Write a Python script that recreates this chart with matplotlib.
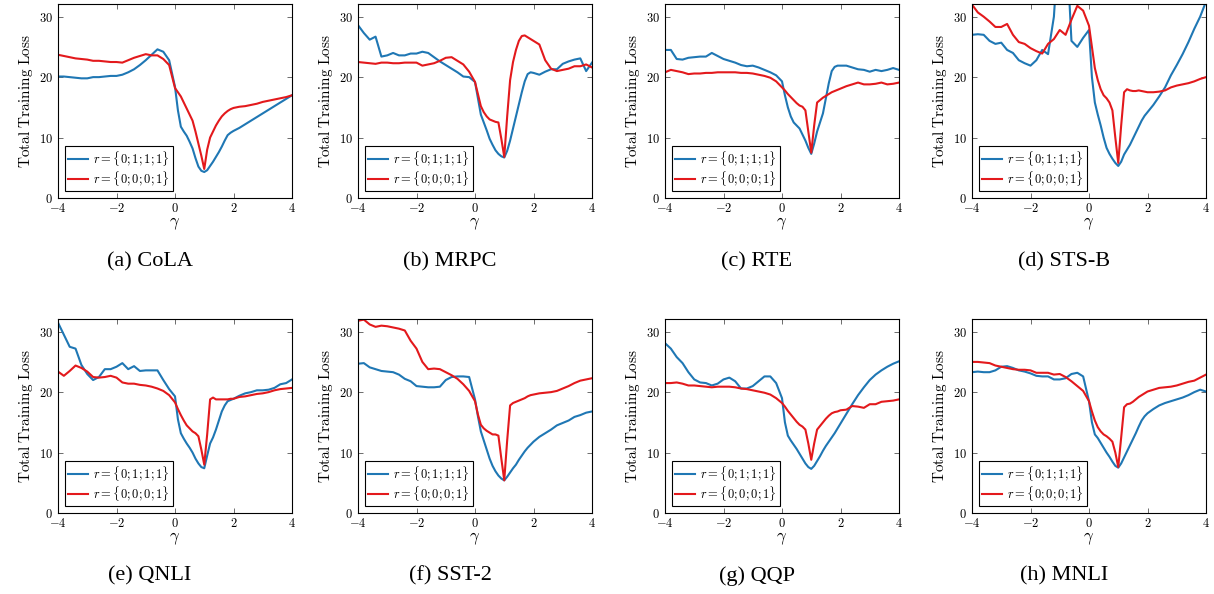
import numpy as np
import matplotlib
matplotlib.use("Agg")
import matplotlib.pyplot as plt
from matplotlib.ticker import FuncFormatter

plt.rcParams['mathtext.fontset'] = 'cm'
plt.rcParams['font.family'] = ['Liberation Serif', 'DejaVu Serif']

# gamma grid: 0.2 steps outside [0, 2], 0.1 steps inside
gamma = np.round(np.concatenate([np.linspace(-4, -0.2, 20),
                                 np.linspace(0, 2, 21),
                                 np.linspace(2.2, 4, 10)]), 2)

tasks = ['(a) CoLA', '(b) MRPC', '(c) RTE', '(d) STS-B',
         '(e) QNLI', '(f) SST-2', '(g) QQP', '(h) MNLI']

# r = {0;1;1;1}
blue = {
    'cola': [20.1, 20.1, 20.0, 19.9, 19.8, 19.8, 20.0, 20.0, 20.1, 20.2, 20.2, 20.4, 20.8, 21.3, 22.0, 22.8, 23.7, 24.6, 24.2, 22.8,
             18.4, 14.5, 11.8, 11.0, 10.3, 9.3, 8.2, 6.6, 5.2, 4.5, 4.3, 4.6, 5.3, 6.0, 6.8, 7.6, 8.5, 9.5, 10.4, 10.8, 11.1,
             11.6, 12.2, 12.8, 13.4, 14.0, 14.6, 15.2, 15.8, 16.4, 17.0],
    'mrpc': [28.6, 27.3, 26.2, 26.7, 23.4, 23.6, 24.0, 23.6, 23.6, 23.9, 23.9, 24.2, 24.0, 23.3, 22.6, 22.0, 21.4, 20.8, 20.1, 20.0,
             19.2, 16.5, 13.8, 12.5, 11.2, 9.8, 8.8, 7.9, 7.3, 6.9, 6.7, 7.8, 9.5, 11.5, 13.5, 15.5, 17.5, 19.3, 20.5, 20.8, 20.7,
             20.4, 20.9, 21.3, 21.3, 22.2, 22.6, 22.9, 23.1, 21.0, 22.4],
    'rte': [24.5, 24.5, 23.0, 22.9, 23.2, 23.3, 23.4, 23.4, 24.0, 23.5, 23.0, 22.7, 22.4, 22.0, 21.8, 21.9, 21.6, 21.2, 20.8, 20.3,
            19.3, 17.0, 15.0, 13.5, 12.5, 12.0, 11.5, 10.5, 9.5, 8.3, 7.3, 9.0, 11.0, 12.5, 14.0, 16.5, 19.0, 21.0, 21.7, 21.9, 21.9,
            21.9, 21.6, 21.3, 21.2, 20.9, 21.2, 21.0, 21.2, 21.5, 21.2],
    'stsb': [27.0, 27.1, 27.0, 26.0, 25.5, 25.7, 24.5, 24.0, 22.8, 22.3, 21.9, 22.8, 24.5, 23.8, 30.0, 45.0, 45.0, 26.0, 25.0, 26.5,
             27.8, 20.0, 15.8, 13.8, 12.0, 10.0, 8.3, 7.3, 6.5, 5.8, 5.3, 6.0, 7.2, 8.0, 8.8, 9.8, 10.8, 11.8, 12.8, 13.6, 14.2,
             15.4, 16.8, 18.3, 20.3, 22.0, 23.8, 25.8, 28.0, 30.0, 32.5],
    'qnli': [31.5, 29.5, 27.5, 27.2, 24.5, 23.0, 22.0, 22.5, 23.8, 23.8, 24.2, 24.8, 23.8, 24.3, 23.5, 23.6, 23.6, 23.6, 22.0, 20.5,
             19.3, 15.5, 13.2, 12.3, 11.5, 10.8, 10.0, 9.0, 8.2, 7.6, 7.4, 9.5, 11.5, 12.5, 13.8, 15.3, 16.8, 17.8, 18.5, 18.7, 18.9,
             19.4, 19.8, 20.0, 20.3, 20.3, 20.4, 20.7, 21.3, 21.5, 22.1],
    'sst2': [24.7, 24.8, 24.1, 23.8, 23.5, 23.4, 23.3, 22.9, 22.2, 21.8, 21.0, 20.9, 20.8, 20.8, 20.9, 22.0, 22.5, 22.6, 22.6, 22.5,
             18.8, 16.0, 13.5, 12.0, 10.5, 9.0, 7.8, 6.9, 6.2, 5.7, 5.4, 6.0, 6.7, 7.4, 8.0, 8.8, 9.5, 10.2, 10.8, 11.3, 11.8,
             12.6, 13.2, 13.8, 14.5, 14.9, 15.3, 15.9, 16.2, 16.6, 16.8],
    'qqp': [28.1, 27.2, 25.8, 24.8, 23.3, 22.1, 21.6, 21.5, 21.1, 21.4, 22.1, 22.4, 21.8, 20.6, 20.6, 21.0, 21.8, 22.6, 22.6, 21.5,
            19.0, 15.0, 12.8, 12.0, 11.3, 10.6, 9.8, 9.0, 8.2, 7.6, 7.3, 7.8, 8.6, 9.4, 10.3, 11.1, 11.8, 12.5, 13.2, 14.0, 14.8,
            16.4, 18.0, 19.5, 20.8, 22.0, 22.9, 23.6, 24.2, 24.7, 25.1],
    'mnli': [23.3, 23.4, 23.3, 23.3, 23.6, 24.2, 24.3, 24.0, 23.6, 23.4, 23.1, 22.7, 22.6, 22.6, 22.1, 22.1, 22.3, 23.0, 23.2, 22.6,
             18.5, 15.0, 13.0, 12.4, 11.6, 10.8, 10.0, 9.3, 8.5, 7.8, 7.5, 8.2, 9.2, 10.2, 11.2, 12.2, 13.2, 14.3, 15.3, 16.0, 16.5,
             17.2, 17.8, 18.2, 18.5, 18.8, 19.1, 19.5, 20.0, 20.4, 20.1],
}

# r = {0;0;0;1}
red = {
    'cola': [23.7, 23.5, 23.3, 23.1, 23.0, 22.9, 22.7, 22.7, 22.6, 22.5, 22.5, 22.4, 22.8, 23.2, 23.5, 23.8, 23.6, 23.6, 23.0, 22.0,
             18.2, 17.5, 16.8, 15.8, 14.8, 13.8, 12.8, 11.0, 9.0, 7.0, 4.8, 8.0, 10.0, 11.0, 12.0, 12.8, 13.5, 14.0, 14.4, 14.7, 14.9,
             15.1, 15.2, 15.4, 15.6, 15.9, 16.1, 16.3, 16.5, 16.7, 17.0],
    'mrpc': [22.5, 22.4, 22.3, 22.2, 22.4, 22.4, 22.3, 22.3, 22.4, 22.4, 22.4, 21.9, 22.1, 22.3, 22.7, 23.2, 23.3, 22.7, 22.1, 20.9,
             19.2, 17.2, 15.2, 14.2, 13.5, 13.0, 12.8, 12.6, 12.5, 9.8, 6.8, 13.5, 19.5, 22.5, 24.5, 26.0, 26.8, 26.9, 26.6, 26.3, 26.0,
             25.4, 22.8, 21.4, 21.0, 21.2, 21.4, 21.8, 21.8, 22.1, 21.6],
    'rte': [20.8, 21.2, 21.0, 20.8, 20.5, 20.6, 20.6, 20.7, 20.7, 20.8, 20.8, 20.8, 20.8, 20.7, 20.7, 20.6, 20.4, 20.2, 19.9, 19.3,
            18.3, 17.8, 17.2, 16.7, 16.2, 15.7, 15.3, 15.1, 14.5, 11.0, 7.5, 12.0, 15.8, 16.2, 16.6, 16.9, 17.2, 17.5, 17.7, 17.9, 18.1,
            18.5, 18.8, 19.1, 18.8, 18.8, 18.9, 19.1, 18.8, 18.9, 19.1],
    'stsb': [32.0, 30.7, 30.0, 29.2, 28.3, 28.3, 28.8, 27.0, 25.8, 25.5, 24.8, 24.3, 23.9, 25.5, 26.3, 27.8, 27.0, 29.5, 31.8, 31.0,
             28.5, 25.0, 21.5, 19.5, 18.0, 17.0, 16.5, 15.8, 14.5, 10.0, 5.8, 12.0, 17.5, 18.0, 17.8, 17.7, 17.7, 17.8, 17.7, 17.6, 17.5,
             17.5, 17.6, 17.8, 18.3, 18.6, 18.8, 19.0, 19.3, 19.7, 20.0],
    'qnli': [23.4, 22.7, 23.5, 24.4, 24.0, 23.4, 22.5, 22.4, 22.5, 22.7, 22.4, 21.6, 21.4, 21.4, 21.2, 21.1, 20.9, 20.6, 20.2, 19.5,
             18.3, 17.2, 16.2, 15.3, 14.5, 14.0, 13.5, 13.2, 12.7, 10.5, 8.0, 13.0, 18.8, 19.1, 18.8, 18.8, 18.8, 18.8, 18.8, 18.9, 18.9,
             19.2, 19.3, 19.5, 19.7, 19.8, 20.0, 20.3, 20.5, 20.6, 20.7],
    'sst2': [31.8, 32.0, 31.2, 30.8, 31.0, 30.9, 30.7, 30.5, 30.2, 28.5, 27.2, 25.0, 23.8, 23.9, 23.8, 23.3, 22.8, 22.2, 21.3, 20.2,
             18.5, 16.3, 14.6, 14.0, 13.6, 13.3, 13.0, 13.0, 12.8, 9.0, 5.4, 12.0, 17.8, 18.2, 18.4, 18.6, 18.8, 19.0, 19.3, 19.5, 19.6,
             19.8, 19.9, 20.0, 20.2, 20.6, 21.0, 21.5, 21.9, 22.1, 22.3],
    'qqp': [21.5, 21.5, 21.6, 21.4, 21.1, 21.1, 21.0, 20.9, 20.8, 20.9, 20.9, 20.9, 20.8, 20.6, 20.5, 20.3, 20.1, 19.9, 19.6, 19.0,
            18.2, 17.6, 16.9, 16.3, 15.7, 15.1, 14.6, 14.3, 13.8, 11.5, 8.8, 11.5, 13.8, 14.4, 15.0, 15.6, 16.1, 16.5, 16.7, 16.8, 17.0,
            17.1, 17.7, 17.6, 17.4, 18.0, 18.0, 18.4, 18.5, 18.6, 18.8],
    'mnli': [25.0, 25.0, 24.9, 24.8, 24.4, 24.2, 24.0, 23.8, 23.7, 23.7, 23.6, 23.2, 23.2, 23.2, 22.9, 23.0, 22.5, 21.8, 21.0, 20.2,
             18.5, 16.8, 15.3, 14.2, 13.5, 13.0, 12.7, 12.3, 11.8, 10.0, 7.6, 12.5, 17.5, 18.0, 18.1, 18.4, 18.8, 19.2, 19.5, 19.8, 20.1,
             20.4, 20.7, 20.8, 20.9, 21.1, 21.4, 21.7, 21.9, 22.4, 22.9],
}

keys = ['cola', 'mrpc', 'rte', 'stsb', 'qnli', 'sst2', 'qqp', 'mnli']
c_blue = '#1f77b4'
c_red = '#e3191c'

fig = plt.figure(figsize=(12.14, 5.94), dpi=100)
lefts = [58, 358, 665, 972]
tops = [4, 319]
W, H = 1214, 594
mfmt = FuncFormatter(lambda v, p: '$%g$' % v)

for i, k in enumerate(keys):
    row, col = divmod(i, 4)
    ax = fig.add_axes([lefts[col] / W, 1 - (tops[row] + 194) / H, 234 / W, 194 / H])
    ax.plot(gamma, blue[k], color=c_blue, lw=1.5, label=r'$r=\{0;1;1;1\}$')
    ax.plot(gamma, red[k], color=c_red, lw=1.5, label=r'$r=\{0;0;0;1\}$')
    ax.set_xlim(-4, 4)
    ax.set_ylim(0, 32.1)
    ax.set_xticks([-4, -2, 0, 2, 4])
    ax.set_yticks([0, 10, 20, 30])
    ax.xaxis.set_major_formatter(mfmt)
    ax.yaxis.set_major_formatter(mfmt)
    ax.tick_params(direction='in', top=True, right=True, length=3.5, width=0.6,
                   labelsize=9, color='#555555')
    ax.tick_params(axis='x', pad=3)
    ax.tick_params(axis='y', pad=3.5)
    for s in ax.spines.values():
        s.set_linewidth(0.8)
    ax.set_xlabel(r'$\gamma$', fontsize=12, labelpad=0)
    ax.set_ylabel(r'$\mathrm{Total\ Training\ Loss}$', fontsize=11, labelpad=3)
    leg = ax.legend(loc='lower left', fontsize=9, fancybox=False, edgecolor='black',
                    framealpha=1, handlelength=1.6, borderpad=0.25, labelspacing=0.1,
                    handletextpad=0.4, borderaxespad=0.55)
    leg.get_frame().set_linewidth(0.8)
    cy = 262 if row == 0 else 576
    fig.text((lefts[col] + 92) / W, 1 - cy / H, tasks[i], ha='center', va='center', fontsize=16)

fig.savefig('out.png', dpi=100)
